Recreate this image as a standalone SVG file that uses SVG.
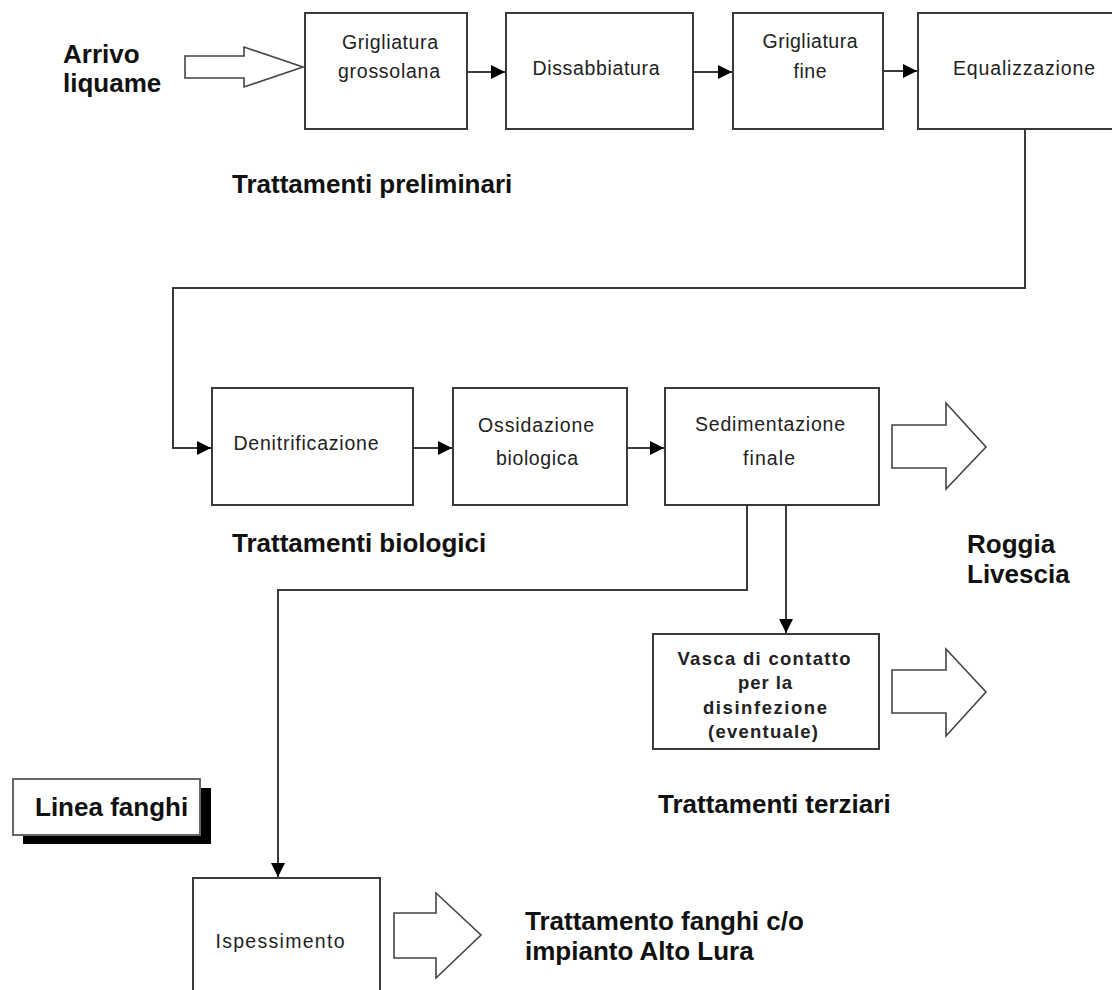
<svg xmlns="http://www.w3.org/2000/svg" width="1112" height="990" viewBox="0 0 1112 990">
<style>
.box{fill:#fff;stroke:#3a3a3a;stroke-width:2}
.t{font-family:"Liberation Sans",Arial,sans-serif;font-size:19.5px;fill:#222;text-anchor:middle}
.tb{font-family:"Liberation Sans",Arial,sans-serif;font-size:18.5px;font-weight:bold;fill:#222;text-anchor:middle}
.lab{font-family:"Liberation Sans",Arial,sans-serif;font-size:26px;font-weight:bold;fill:#111}
.con{fill:none;stroke:#3a3a3a;stroke-width:2}
.hollow{fill:#fff;stroke:#444;stroke-width:1.6;stroke-linejoin:miter}
</style>
<defs>
<marker id="ah" viewBox="0 0 10 10" refX="10" refY="5" markerWidth="8" markerHeight="7" markerUnits="strokeWidth" orient="auto">
<path d="M0,0 L10,5 L0,10 Z" fill="#000"/>
</marker>
</defs>
<rect width="1112" height="990" fill="#fff"/>

<g id="connectors">
<line class="con" x1="467" y1="72" x2="505" y2="72" marker-end="url(#ah)"/>
<line class="con" x1="693" y1="72" x2="732" y2="72" marker-end="url(#ah)"/>
<line class="con" x1="883" y1="71" x2="917" y2="71" marker-end="url(#ah)"/>
<polyline class="con" points="1025,129 1025,288 173,288 173,448 211,448" marker-end="url(#ah)"/>
<line class="con" x1="413" y1="448" x2="452" y2="448" marker-end="url(#ah)"/>
<line class="con" x1="627" y1="448" x2="664" y2="448" marker-end="url(#ah)"/>
<polyline class="con" points="747,505 747,590 278,590 278,877" marker-end="url(#ah)"/>
<line class="con" x1="786" y1="505" x2="786" y2="633" marker-end="url(#ah)"/>
</g>

<g id="arrivo">
<text class="lab" x="63" y="63">Arrivo</text>
<text class="lab" x="63" y="92">liquame</text>
<path class="hollow" d="M185,56 L244,56 L244,47 L303,67 L244,87 L244,78 L185,78 Z"/>
</g>

<g id="grigliatura-grossolana">
<rect class="box" x="305" y="13" width="162" height="116"/>
<text class="t" x="390" y="49" textLength="96" lengthAdjust="spacing">Grigliatura</text>
<text class="t" x="389" y="78" textLength="102" lengthAdjust="spacing">grossolana</text>
</g>

<g id="dissabbiatura">
<rect class="box" x="506" y="13" width="187" height="116"/>
<text class="t" x="596" y="75" textLength="127" lengthAdjust="spacing">Dissabbiatura</text>
</g>

<g id="grigliatura-fine">
<rect class="box" x="733" y="13" width="150" height="116"/>
<text class="t" x="810" y="48" textLength="95" lengthAdjust="spacing">Grigliatura</text>
<text class="t" x="810" y="78" textLength="33" lengthAdjust="spacing">fine</text>
</g>

<g id="equalizzazione">
<rect class="box" x="918" y="13" width="210" height="116"/>
<text class="t" x="1024" y="75" textLength="142" lengthAdjust="spacing">Equalizzazione</text>
</g>

<g id="label-preliminari">
<text class="lab" x="232" y="193">Trattamenti preliminari</text>
</g>

<g id="denitrificazione">
<rect class="box" x="212" y="388" width="201" height="117"/>
<text class="t" x="306" y="450" textLength="145" lengthAdjust="spacing">Denitrificazione</text>
</g>

<g id="ossidazione">
<rect class="box" x="453" y="388" width="174" height="117"/>
<text class="t" x="536" y="432" textLength="116" lengthAdjust="spacing">Ossidazione</text>
<text class="t" x="537" y="465" textLength="82" lengthAdjust="spacing">biologica</text>
</g>

<g id="sedimentazione">
<rect class="box" x="665" y="388" width="214" height="117"/>
<text class="t" x="770" y="431" textLength="150" lengthAdjust="spacing">Sedimentazione</text>
<text class="t" x="769" y="465" textLength="52" lengthAdjust="spacing">finale</text>
</g>

<g id="roggia">
<path class="hollow" d="M892,425 L946,425 L946,403 L986,447 L946,489 L946,468 L892,468 Z"/>
<text class="lab" x="967" y="553">Roggia</text>
<text class="lab" x="967" y="583">Livescia</text>
</g>

<g id="label-biologici">
<text class="lab" x="232" y="552">Trattamenti biologici</text>
</g>

<g id="vasca">
<rect class="box" x="653" y="634" width="226" height="115"/>
<text class="tb" x="764" y="665" textLength="173" lengthAdjust="spacing">Vasca di contatto</text>
<text class="tb" x="765" y="689" textLength="54" lengthAdjust="spacing">per la</text>
<text class="tb" x="765" y="714" textLength="124" lengthAdjust="spacing">disinfezione</text>
<text class="tb" x="763" y="738" textLength="110" lengthAdjust="spacing">(eventuale)</text>
<path class="hollow" d="M892,670 L946,670 L946,649 L986,692 L946,736 L946,713 L892,713 Z"/>
</g>

<g id="label-terziari">
<text class="lab" x="658" y="813">Trattamenti terziari</text>
</g>

<g id="linea-fanghi">
<rect x="23" y="788" width="188" height="56" fill="#000"/>
<rect x="13" y="779" width="187" height="56" fill="#fff" stroke="#666" stroke-width="2"/>
<text class="lab" x="35" y="816">Linea fanghi</text>
</g>

<g id="ispessimento">
<rect class="box" x="193" y="878" width="187" height="130"/>
<text class="t" x="280" y="948" textLength="129" lengthAdjust="spacing">Ispessimento</text>
<path class="hollow" d="M394,913 L436,913 L436,893 L481,935 L436,978 L436,958 L394,958 Z"/>
</g>

<g id="label-fanghi">
<text class="lab" x="525" y="930">Trattamento fanghi c/o</text>
<text class="lab" x="525" y="960">impianto Alto Lura</text>
</g>
</svg>
